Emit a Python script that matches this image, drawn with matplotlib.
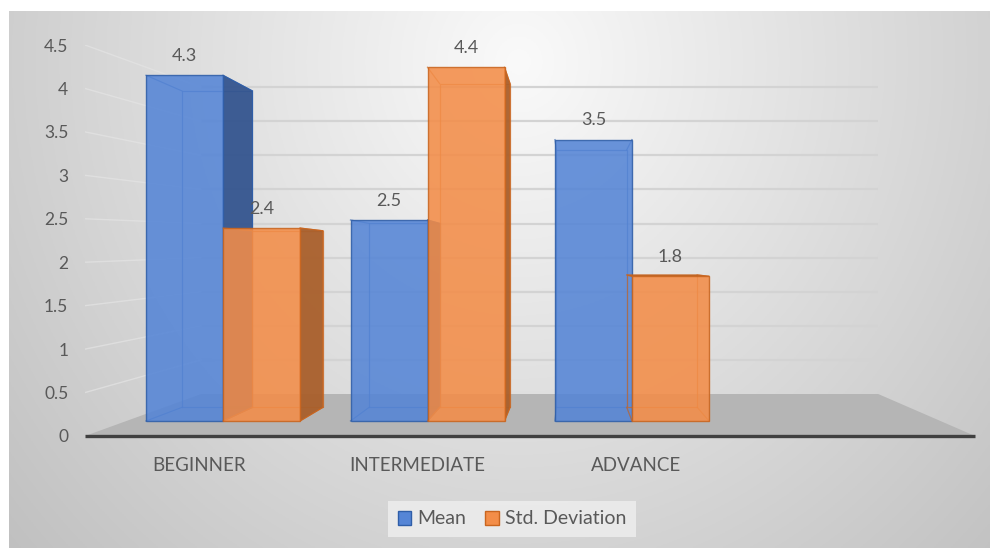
import numpy as np
import matplotlib
matplotlib.use("Agg")
import matplotlib.pyplot as plt
from matplotlib.patches import Polygon, Patch

# ---------------- data ----------------
categories = ["BEGINNER", "INTERMEDIATE", "ADVANCE"]
mean_vals = [4.3, 2.5, 3.5]
std_vals = [2.4, 4.4, 1.8]
series_names = ["Mean", "Std. Deviation"]
y_ticks = [0, 0.5, 1, 1.5, 2, 2.5, 3, 3.5, 4, 4.5]
y_tick_labels = ["0", "0.5", "1", "1.5", "2", "2.5", "3", "3.5", "4", "4.5"]

# ---------------- style ----------------
FONT = ["Lato", "DejaVu Sans"]
TXT = "#595959"
BLUE_FACE, BLUE_SIDE, BLUE_EDGE = "#5585d6", "#34558f", "#2f5ea8"
ORNG_FACE, ORNG_SIDE, ORNG_EDGE = "#f38d48", "#a95f2b", "#c9651f"

W, H = 1000, 548
fig = plt.figure(figsize=(W / 100, H / 100), dpi=100)
fig.patch.set_facecolor("white")

# background gradient
bg = fig.add_axes([9 / W, 0, 981 / W, 537 / H], zorder=0)
gx, gy = np.meshgrid(np.linspace(0, 981, 400), np.linspace(0, 537, 250))
r = np.sqrt(((gx - 510) / 520) ** 2 + ((gy - 50) / 560) ** 2)
g = np.clip(250 - 44 * r, 190, 250) / 255
bg.imshow(np.dstack([g, g, g]), aspect="auto", extent=[0, 981, 537, 0])
bg.set_axis_off()

# axes geometry (front plane)
L_px, R_px, TOP_px, BOT_px = 85, 975, 45, 436
pos = [L_px / W, (H - BOT_px) / H, (R_px - L_px) / W, (BOT_px - TOP_px) / H]
GRP0, GRP_STEP = 223, 204.5
xlim = ((L_px - GRP0) / GRP_STEP, (R_px - GRP0) / GRP_STEP)

# ---- wall / tick axes ----
aw = fig.add_axes(pos, zorder=1)
aw.patch.set_alpha(0)
aw.set_xlim(*xlim)
aw.set_ylim(0, 4.5)
for s in aw.spines.values():
    s.set_visible(False)

vpx = (570 - GRP0) / GRP_STEP
wall_s = 0.761
back_a, back_b = (BOT_px - 394) / 86.9, 68.2 / 86.9


def wx(x):
    return vpx + wall_s * (x - vpx)


xl, xr = xlim
bxl, bxr = wx(xl), wx(xr)
# floor
aw.add_patch(Polygon([(xl, 0), (xr, 0), (bxr, back_a), (bxl, back_a)],
                     closed=True, facecolor="#b5b5b5", edgecolor="none", zorder=1))
# back wall grid lines and left wall grid lines
for v in y_ticks[1:]:
    yb = back_a + back_b * v
    aw.plot([bxl, bxr], [yb, yb], color="#d3d3d3", lw=1.6, zorder=1,
            solid_capstyle="butt")
    aw.plot([xl, bxl], [v, yb], color="#e4e4e4", lw=1.0, alpha=0.7, zorder=1)
# axis line
aw.plot([xl, xr], [0, 0], color="#404040", lw=2.4, zorder=2, clip_on=False,
        solid_capstyle="butt")

aw.set_yticks(y_ticks)
aw.set_yticklabels(y_tick_labels)
aw.tick_params(axis="y", length=0, pad=12, labelsize=12.5, labelcolor=TXT)
# category labels (projected slightly forward)
lab_s = 1.07
aw.set_xticks([vpx + lab_s * (i - vpx) for i in range(len(categories))])
aw.set_xticklabels(categories)
aw.tick_params(axis="x", length=0, pad=15, labelsize=13.5, labelcolor=TXT)
for t in aw.get_xticklabels() + aw.get_yticklabels():
    t.set_family(FONT)

# ---- bar axes ----
ab = fig.add_axes(pos, zorder=2)
ab.patch.set_alpha(0)
ab.set_axis_off()
ab.set_xlim(*xlim)
PX_PER_UNIT, BASE_PX = 80.4, 421
ab.set_ylim((BASE_PX - BOT_px) / PX_PER_UNIT, (BASE_PX - TOP_px) / PX_PER_UNIT)

bvpx, bvpy, bs = vpx, (BASE_PX - 260) / PX_PER_UNIT, 0.915
bar_w = 77 / GRP_STEP


def P(x, y):
    return (bvpx + bs * (x - bvpx), bvpy + bs * (y - bvpy))


def box(x0, v, face, side, edge, z, allow_left=True, allow_right=True):
    x1 = x0 + bar_w
    bl, br, tl, tr = P(x0, 0), P(x1, 0), P(x0, v), P(x1, v)
    # hidden back edges seen through
    ab.plot([bl[0], br[0], tr[0], tl[0], bl[0]], [bl[1], br[1], tr[1], tl[1], bl[1]],
            color=edge, lw=0.9, alpha=0.7, zorder=z)
    for (fx, fy), (bx, by) in [((x0, 0), bl), ((x1, 0), br), ((x0, v), tl), ((x1, v), tr)]:
        ab.plot([fx, bx], [fy, by], color=edge, lw=0.9, alpha=0.7, zorder=z)
    if allow_right and br[0] > x1:
        ab.add_patch(Polygon([(x1, 0), br, tr, (x1, v)], closed=True, facecolor=side,
                             edgecolor=edge, lw=0.8, alpha=0.95, zorder=z + 0.1))
    if allow_left and bl[0] < x0:
        ab.add_patch(Polygon([(x0, 0), bl, tl, (x0, v)], closed=True, facecolor=side,
                             edgecolor=edge, lw=0.8, alpha=0.95, zorder=z + 0.1))
    if tl[1] > v:
        ab.add_patch(Polygon([(x0, v), (x1, v), tr, tl], closed=True, facecolor=side,
                             edgecolor=edge, lw=0.8, alpha=0.8, zorder=z + 0.1))
    ab.bar(x0, v, bar_w, align="edge", color=face, alpha=0.88, edgecolor=edge,
           linewidth=1.0, zorder=z + 0.2)
    ab.annotate(f"{v:.1f}", (x0 + bar_w / 2, v), xytext=(0, 8), textcoords="offset points",
                ha="center", va="bottom", fontsize=13, color=TXT, family=FONT, zorder=50)


z = 2
for i in range(len(categories)):
    box(i - bar_w, mean_vals[i], BLUE_FACE, BLUE_SIDE, BLUE_EDGE, z)
    z += 1
    box(i, std_vals[i], ORNG_FACE, ORNG_SIDE, ORNG_EDGE, z, allow_left=False)
    z += 1

# legend
handles = [Patch(facecolor=BLUE_FACE, edgecolor=BLUE_EDGE, label=series_names[0]),
           Patch(facecolor=ORNG_FACE, edgecolor=ORNG_EDGE, label=series_names[1])]
leg = fig.legend(handles=handles, loc="center", bbox_to_anchor=(0.512, (H - 519) / H),
                 ncol=2, frameon=True, fancybox=False, handlelength=0.7, handleheight=0.7,
                 handletextpad=0.3, columnspacing=1.0, borderpad=0.5, borderaxespad=0,
                 prop={"family": FONT, "size": 14})
leg.get_frame().set_facecolor("#efefef")
leg.get_frame().set_alpha(0.8)
leg.get_frame().set_edgecolor("none")
for t in leg.get_texts():
    t.set_color(TXT)

fig.savefig("out.png", dpi=100)
